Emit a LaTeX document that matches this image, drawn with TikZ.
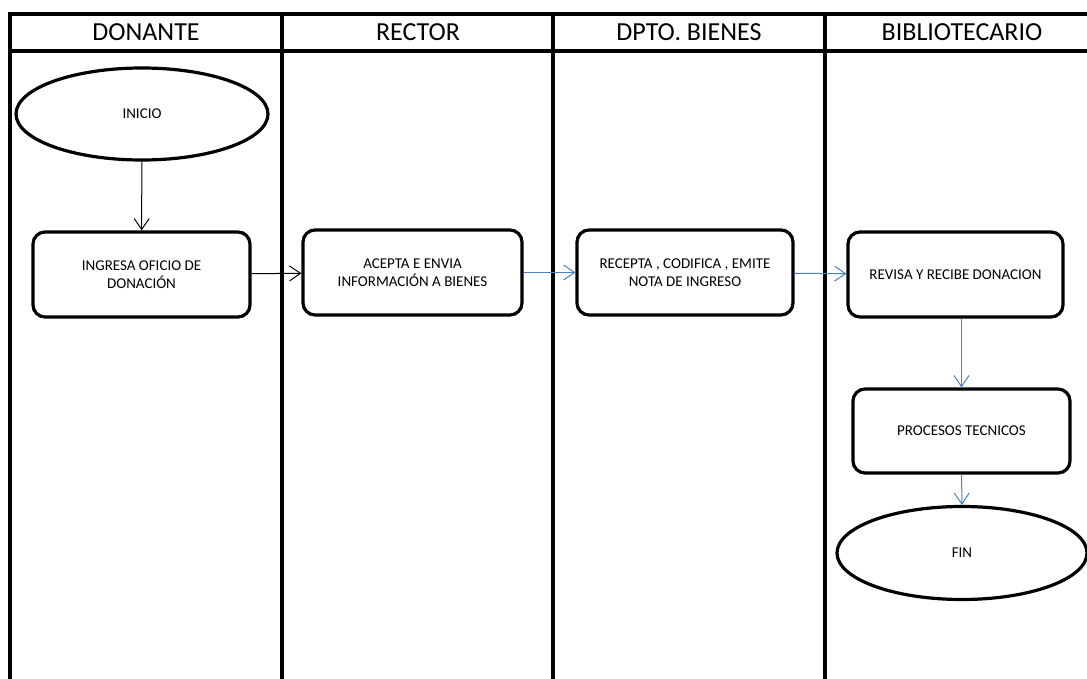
\documentclass[tikz,border=0pt]{standalone}
\usepackage{fontspec}
\setmainfont{Carlito}
\usepackage{xcolor}
\usepackage{tikz}
\usetikzlibrary{arrows.meta,positioning,shapes.geometric}

\definecolor{azul}{RGB}{79,129,189}

\begin{document}
\begin{tikzpicture}[x=1pt,y=-1pt,>={Straight Barb[length=11pt,width=15pt]},
  carril/.style={line width=3.2pt},
  titulo/.style={font=\fontsize{26}{28}\selectfont},
  proceso/.style={draw,line width=3.2pt,rounded corners=12pt,inner sep=0pt,align=center,font=\fontsize{15}{18.5}\selectfont},
  terminal/.style={draw,ellipse,line width=3.2pt,inner sep=0pt,font=\fontsize{15}{18.5}\selectfont},
  flecha/.style={->,line width=1pt},
  flechaazul/.style={->,line width=1pt,azul}]
  \useasboundingbox (0,0) rectangle (1087,679);

  % carriles
  \draw[carril] (1087,14) -- (10,14) -- (10,679);
  \draw[carril] (10,51) -- (1087,51);
  \draw[carril] (282,14) -- (282,679);
  \draw[carril] (553,14) -- (553,679);
  \draw[carril] (825,14) -- (825,679);
  \node[titulo] (donante) at (146,32) {DONANTE};
  \node[titulo] (rector) at (418,32) {RECTOR};
  \node[titulo] (bienes) at (689,32) {DPTO. BIENES};
  \node[titulo] (biblio) at (962,32) {BIBLIOTECARIO};

  % nodos
  \node[terminal,minimum width=252pt,minimum height=92pt] (inicio) at (142,114) {INICIO};
  \node[proceso,minimum width=217pt,minimum height=85pt] (ingresa) at (141.5,274.5) {INGRESA OFICIO DE\\DONACIÓN};
  \node[proceso,minimum width=219pt,minimum height=85pt] (acepta) at (412.5,272.5) {ACEPTA E ENVIA\\INFORMACIÓN A BIENES};
  \node[proceso,minimum width=216pt,minimum height=85pt] (recepta) at (685,272.5) {RECEPTA , CODIFICA , EMITE\\NOTA DE INGRESO};
  \node[proceso,minimum width=215pt,minimum height=85pt] (revisa) at (955.5,274.5) {REVISA Y RECIBE DONACION};
  \node[proceso,minimum width=217pt,minimum height=84pt] (procesos) at (961.5,431) {PROCESOS TECNICOS};
  \node[terminal,minimum width=250pt,minimum height=93pt] (fin) at (962,553) {FIN};

  % flechas
  \draw[flecha] (inicio) -- (ingresa);
  \draw[flecha] (ingresa) -- (acepta);
  \draw[flechaazul] (acepta) -- (recepta);
  \draw[flechaazul] (recepta) -- (revisa);
  \draw[flechaazul] (revisa.south -| procesos.north) -- (procesos.north);
  \draw[flechaazul] (procesos) -- (fin);
\end{tikzpicture}
\end{document}
